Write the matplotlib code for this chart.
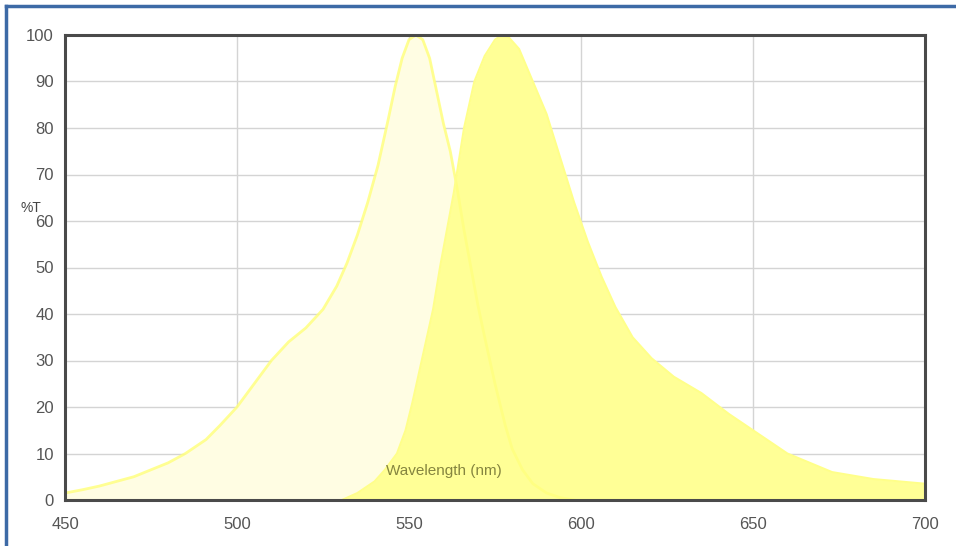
import matplotlib
matplotlib.use("Agg")
import matplotlib.pyplot as plt
from matplotlib.lines import Line2D

plt.rcParams['font.family'] = ['Liberation Sans', 'DejaVu Sans']

# Excitation spectrum (pale)
ex_wl = [450, 455, 460, 465, 470, 475, 480, 485, 491, 495, 500, 505, 510, 515, 520, 525, 529, 532, 535, 538, 541, 544, 546, 548, 550, 552, 554, 556, 558, 560, 562, 564, 566, 568, 570, 572, 575, 578, 580, 583, 586, 590, 594, 598]
ex_t = [1.5, 2.2, 3, 4, 5, 6.5, 8, 10, 13, 16, 20, 25, 30, 34, 37, 41, 46, 51, 57, 64, 72, 82, 89, 95, 99, 100, 99, 95, 88, 81, 75, 67, 58, 50, 42, 35, 25, 16, 11, 6.5, 3.5, 1.5, 0.5, 0]

# Emission spectrum (saturated)
em_wl = [530.5, 535, 540, 543, 546.5, 549, 551, 554, 557, 559, 561, 563, 566, 569, 572, 575, 577, 579, 582, 586, 590, 594, 598, 602, 606, 610, 615, 620.5, 627, 635, 643, 650, 660, 673, 685, 700]
em_t = [0, 1.5, 4, 6.5, 10, 15, 21, 31, 41, 50, 58, 66, 80, 90, 95.5, 99, 100, 99.5, 97, 90, 83, 73.5, 64, 55.5, 48, 41.5, 35, 30.5, 26.5, 23, 18.5, 15, 10, 6, 4.5, 3.5]

x_ticks = [450, 500, 550, 600, 650, 700]
y_ticks = [0, 10, 20, 30, 40, 50, 60, 70, 80, 90, 100]

fig = plt.figure(figsize=(9.56, 5.46), dpi=100)
ax = fig.add_axes([65/956, 1-500/546, 860/956, 465/546])

ax.fill_between(ex_wl, ex_t, 0, color='#fffde3', lw=0, zorder=2)
ax.fill_between(em_wl, em_t, 0, color='#ffff96', lw=0, zorder=3)
ax.plot(ex_wl, ex_t, color='#ffff80', lw=2, zorder=4, alpha=0.85, solid_joinstyle='round')
ax.plot(em_wl, em_t, color='#ffff8a', lw=1.5, zorder=4, solid_joinstyle='round')

ax.set_xlim(450, 700)
ax.set_ylim(0, 100)
ax.set_xticks(x_ticks)
ax.set_yticks(y_ticks)
ax.grid(True, color='#d4d4d4', lw=1, zorder=1)
ax.set_axisbelow(True)
ax.tick_params(length=0, labelsize=12, labelcolor='#555555')
ax.tick_params(axis='x', pad=12)
ax.tick_params(axis='y', pad=8)
for s in ax.spines.values():
    s.set_color('#4a4a4a')
    s.set_linewidth(2.2)
    s.set_zorder(6)

ax.text(560, 6.2, 'Wavelength (nm)', fontsize=11, color='#85853f',
        ha='center', va='center', zorder=7)
fig.text(31/956, 1-208/546, '%T', fontsize=10, color='#444444', ha='center', va='center')

# blue border (top and left)
fig.add_artist(Line2D([6/956, 1], [1-6/546, 1-6/546], transform=fig.transFigure, color='#3d6aa6', lw=2.5))
fig.add_artist(Line2D([6/956, 6/956], [0, 1-6/546], transform=fig.transFigure, color='#3d6aa6', lw=2.5))

fig.savefig('out.png', dpi=100)
